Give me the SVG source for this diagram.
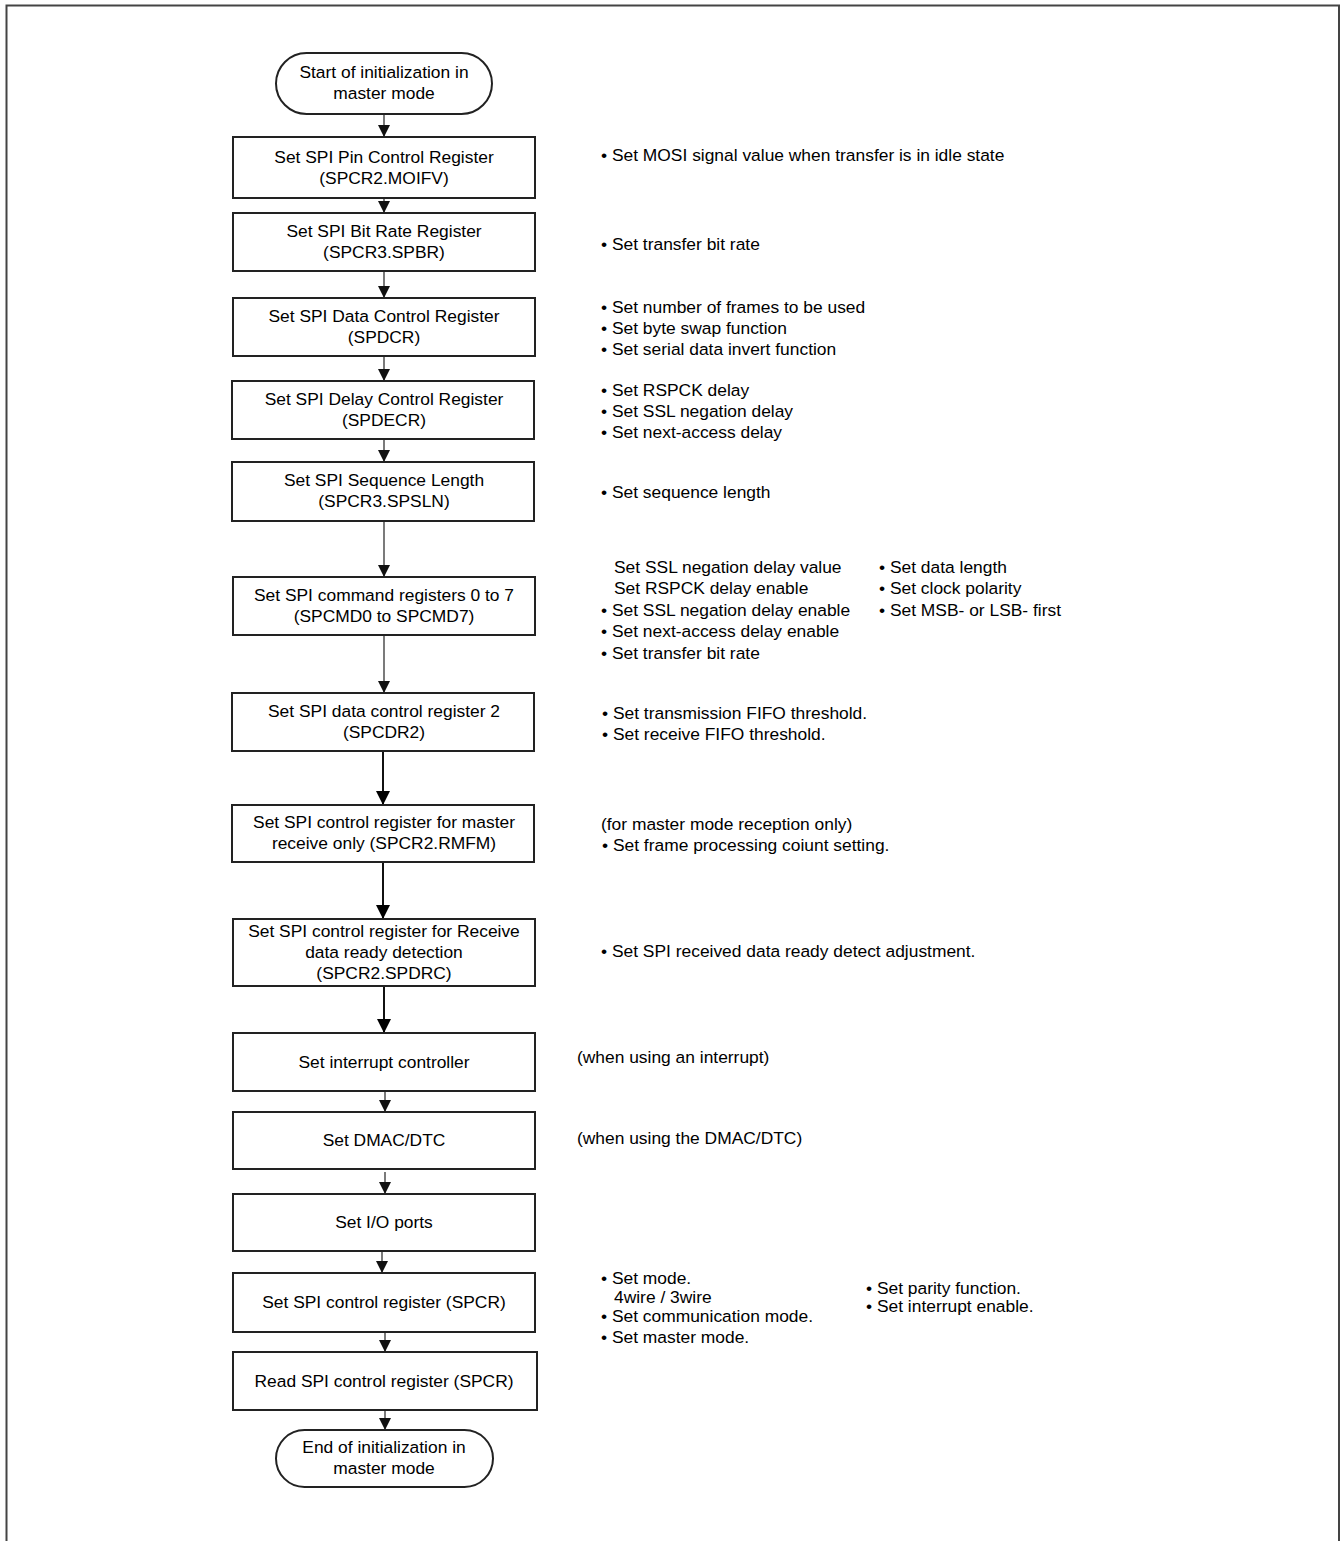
<svg xmlns="http://www.w3.org/2000/svg" width="1341" height="1541" viewBox="0 0 1341 1541">
<style>
.box{fill:#fff;stroke:#222;stroke-width:2}
.t{font-family:"Liberation Sans",Arial,sans-serif;font-size:17.4px;fill:#000}
.c{text-anchor:middle}
.ln{fill:none;stroke:#333;stroke-width:1.3}
.lnb{fill:none;stroke:#111;stroke-width:2}
.frame{fill:none;stroke:#444;stroke-width:2}
</style>
<defs>
<marker id="ah" markerUnits="userSpaceOnUse" markerWidth="12" markerHeight="12" refX="10" refY="5" orient="auto" viewBox="0 0 10 10"><path d="M0,0 L10,5 L0,10 z" fill="#111"/></marker>
<marker id="ahb" markerUnits="userSpaceOnUse" markerWidth="14" markerHeight="14" refX="12" refY="6" orient="auto" viewBox="0 0 12 12"><path d="M0,0 L12,6 L0,12 z" fill="#000"/></marker>
</defs>
<rect width="1341" height="1541" fill="#fff"/>
<path class="frame" d="M6.5,1541 V5.5 H1339 V1541"/>

<g id="connectors">
<path class="ln" d="M384,114 V137" marker-end="url(#ah)"/>
<path class="ln" d="M384,198 V213" marker-end="url(#ah)"/>
<path class="ln" d="M384,271 V298" marker-end="url(#ah)"/>
<path class="ln" d="M384,356 V381" marker-end="url(#ah)"/>
<path class="ln" d="M384,439 V462" marker-end="url(#ah)"/>
<path class="ln" d="M384,521 V577" marker-end="url(#ah)"/>
<path class="ln" d="M384,635 V693" marker-end="url(#ah)"/>
<path class="lnb" d="M383,751 V805" marker-end="url(#ahb)"/>
<path class="lnb" d="M383,862 V919" marker-end="url(#ahb)"/>
<path class="lnb" d="M384,986 V1033" marker-end="url(#ahb)"/>
<path class="ln" d="M385,1091 V1112" marker-end="url(#ah)"/>
<path class="ln" d="M385,1172 V1194" marker-end="url(#ah)"/>
<path class="ln" d="M382,1249 V1273" marker-end="url(#ah)"/>
<path class="ln" d="M385,1332 V1352" marker-end="url(#ah)"/>
<path class="ln" d="M385,1410 V1430" marker-end="url(#ah)"/>
</g>

<g id="start">
<rect class="box" x="276" y="53" width="216" height="61" rx="30.5"/>
<text class="t c" x="384" y="78">Start of initialization in</text>
<text class="t c" x="384" y="99">master mode</text>
</g>
<g id="n1">
<rect class="box" x="233" y="137" width="302" height="61"/>
<text class="t c" x="384" y="163">Set SPI Pin Control Register</text>
<text class="t c" x="384" y="184">(SPCR2.MOIFV)</text>
</g>
<g id="n2">
<rect class="box" x="233" y="213" width="302" height="58"/>
<text class="t c" x="384" y="237">Set SPI Bit Rate Register</text>
<text class="t c" x="384" y="258">(SPCR3.SPBR)</text>
</g>
<g id="n3">
<rect class="box" x="233" y="298" width="302" height="58"/>
<text class="t c" x="384" y="322">Set SPI Data Control Register</text>
<text class="t c" x="384" y="343">(SPDCR)</text>
</g>
<g id="n4">
<rect class="box" x="232" y="381" width="302" height="58"/>
<text class="t c" x="384" y="405">Set SPI Delay Control Register</text>
<text class="t c" x="384" y="426">(SPDECR)</text>
</g>
<g id="n5">
<rect class="box" x="232" y="462" width="302" height="59"/>
<text class="t c" x="384" y="486">Set SPI Sequence Length</text>
<text class="t c" x="384" y="507">(SPCR3.SPSLN)</text>
</g>
<g id="n6">
<rect class="box" x="233" y="577" width="302" height="58"/>
<text class="t c" x="384" y="601">Set SPI command registers 0 to 7</text>
<text class="t c" x="384" y="622">(SPCMD0 to SPCMD7)</text>
</g>
<g id="n7">
<rect class="box" x="232" y="693" width="302" height="58"/>
<text class="t c" x="384" y="717">Set SPI data control register 2</text>
<text class="t c" x="384" y="738">(SPCDR2)</text>
</g>
<g id="n8">
<rect class="box" x="232" y="805" width="302" height="57"/>
<text class="t c" x="384" y="828">Set SPI control register for master</text>
<text class="t c" x="384" y="849">receive only (SPCR2.RMFM)</text>
</g>
<g id="n9">
<rect class="box" x="233" y="919" width="302" height="67"/>
<text class="t c" x="384" y="937">Set SPI control register for Receive</text>
<text class="t c" x="384" y="958">data ready detection</text>
<text class="t c" x="384" y="979">(SPCR2.SPDRC)</text>
</g>
<g id="n10">
<rect class="box" x="233" y="1033" width="302" height="58"/>
<text class="t c" x="384" y="1068">Set interrupt controller</text>
</g>
<g id="n11">
<rect class="box" x="233" y="1112" width="302" height="57"/>
<text class="t c" x="384" y="1146">Set DMAC/DTC</text>
</g>
<g id="n12">
<rect class="box" x="233" y="1194" width="302" height="57"/>
<text class="t c" x="384" y="1228">Set I/O ports</text>
</g>
<g id="n13">
<rect class="box" x="233" y="1273" width="302" height="59"/>
<text class="t c" x="384" y="1308">Set SPI control register (SPCR)</text>
</g>
<g id="n14">
<rect class="box" x="233" y="1352" width="304" height="58"/>
<text class="t c" x="384" y="1387">Read SPI control register (SPCR)</text>
</g>
<g id="end">
<rect class="box" x="276" y="1430" width="217" height="57" rx="28.5"/>
<text class="t c" x="384" y="1453">End of initialization in</text>
<text class="t c" x="384" y="1474">master mode</text>
</g>

<g id="notes">
<text class="t" x="601" y="161">• Set MOSI signal value when transfer is in idle state</text>
<text class="t" x="601" y="250">• Set transfer bit rate</text>
<text class="t" x="601" y="313">• Set number of frames to be used</text>
<text class="t" x="601" y="334">• Set byte swap function</text>
<text class="t" x="601" y="355">• Set serial data invert function</text>
<text class="t" x="601" y="396">• Set RSPCK delay</text>
<text class="t" x="601" y="417">• Set SSL negation delay</text>
<text class="t" x="601" y="438">• Set next-access delay</text>
<text class="t" x="601" y="498">• Set sequence length</text>
<text class="t" x="614" y="573">Set SSL negation delay value</text>
<text class="t" x="614" y="594">Set RSPCK delay enable</text>
<text class="t" x="601" y="616">• Set SSL negation delay enable</text>
<text class="t" x="601" y="637">• Set next-access delay enable</text>
<text class="t" x="601" y="659">• Set transfer bit rate</text>
<text class="t" x="879" y="573">• Set data length</text>
<text class="t" x="879" y="594">• Set clock polarity</text>
<text class="t" x="879" y="616">• Set MSB- or LSB- first</text>
<text class="t" x="602" y="719">• Set transmission FIFO threshold.</text>
<text class="t" x="602" y="740">• Set receive FIFO threshold.</text>
<text class="t" x="601" y="830">(for master mode reception only)</text>
<text class="t" x="602" y="851">• Set frame processing coiunt setting.</text>
<text class="t" x="601" y="957">• Set SPI received data ready detect adjustment.</text>
<text class="t" x="577" y="1063">(when using an interrupt)</text>
<text class="t" x="577" y="1144">(when using the DMAC/DTC)</text>
<text class="t" x="601" y="1284">• Set mode.</text>
<text class="t" x="614" y="1303">4wire / 3wire</text>
<text class="t" x="601" y="1322">• Set communication mode.</text>
<text class="t" x="601" y="1343">• Set master mode.</text>
<text class="t" x="866" y="1294">• Set parity function.</text>
<text class="t" x="866" y="1312">• Set interrupt enable.</text>
</g>
</svg>
